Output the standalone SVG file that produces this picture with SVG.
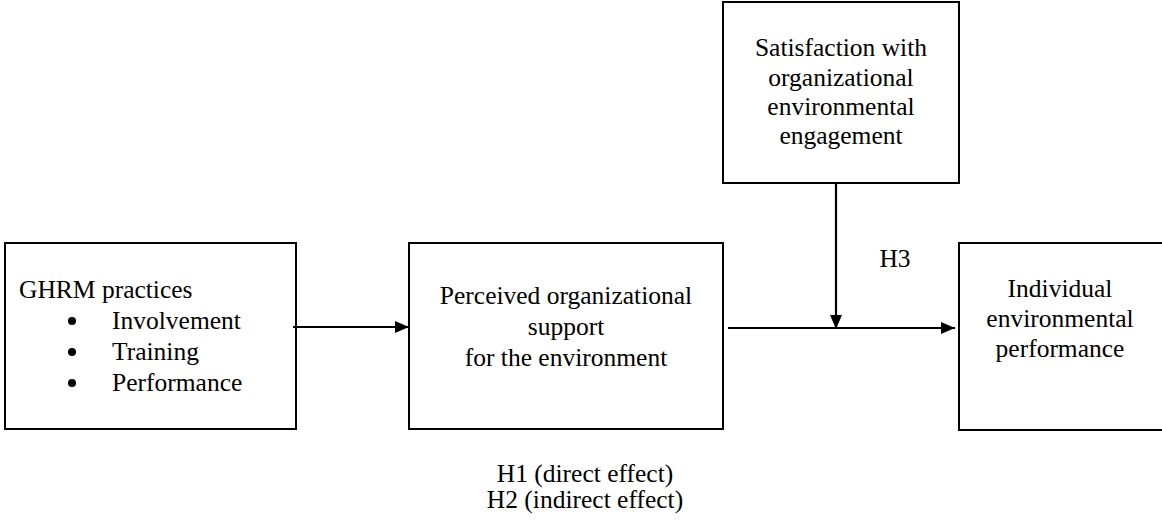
<svg xmlns="http://www.w3.org/2000/svg" width="1162" height="524" viewBox="0 0 1162 524">
  <style>
    .box { fill: #ffffff; stroke: #000000; stroke-width: 2; }
    .conn { stroke: #000000; stroke-width: 2.2; fill: none; }
  </style>
  <defs>
    <marker id="arrow" markerUnits="userSpaceOnUse" markerWidth="14" markerHeight="12" refX="14" refY="6" orient="auto">
      <path d="M0,0 L14,6 L0,12 Z" fill="#000000"/>
    </marker>
  </defs>
  <rect width="1162" height="524" fill="#ffffff"/>

  <g id="node-ghrm">
    <rect class="box" x="5" y="243" width="291" height="186"/>
    <text x="19" y="298" font-family="Liberation Serif, serif" font-size="25.5">GHRM practices</text>
    <circle cx="72" cy="321" r="4"/>
    <text x="112" y="329" font-family="Liberation Serif, serif" font-size="25.5">Involvement</text>
    <circle cx="72" cy="352" r="4"/>
    <text x="112" y="360" font-family="Liberation Serif, serif" font-size="25.5">Training</text>
    <circle cx="72" cy="383" r="4"/>
    <text x="112" y="391" font-family="Liberation Serif, serif" font-size="25.5">Performance</text>
  </g>

  <g id="node-pos">
    <rect class="box" x="409" y="243" width="314" height="186"/>
    <text x="566" y="304" text-anchor="middle" font-family="Liberation Serif, serif" font-size="25.5">Perceived organizational</text>
    <text x="566" y="335" text-anchor="middle" font-family="Liberation Serif, serif" font-size="25.5">support</text>
    <text x="566" y="366" text-anchor="middle" font-family="Liberation Serif, serif" font-size="25.5">for the environment</text>
  </g>

  <g id="node-satisfaction">
    <rect class="box" x="723" y="2" width="236" height="181"/>
    <text x="841" y="56" text-anchor="middle" font-family="Liberation Serif, serif" font-size="25.5">Satisfaction with</text>
    <text x="841" y="86" text-anchor="middle" font-family="Liberation Serif, serif" font-size="25.5">organizational</text>
    <text x="841" y="115" text-anchor="middle" font-family="Liberation Serif, serif" font-size="25.5">environmental</text>
    <text x="841" y="144" text-anchor="middle" font-family="Liberation Serif, serif" font-size="25.5">engagement</text>
  </g>

  <g id="node-performance">
    <rect class="box" x="959" y="243" width="220" height="187"/>
    <text x="1060" y="297" text-anchor="middle" font-family="Liberation Serif, serif" font-size="25.5">Individual</text>
    <text x="1060" y="327" text-anchor="middle" font-family="Liberation Serif, serif" font-size="25.5">environmental</text>
    <text x="1060" y="357" text-anchor="middle" font-family="Liberation Serif, serif" font-size="25.5">performance</text>
  </g>

  <g id="connectors">
    <line class="conn" x1="293" y1="327" x2="409" y2="327" marker-end="url(#arrow)"/>
    <line class="conn" x1="728" y1="328" x2="955" y2="328" marker-end="url(#arrow)"/>
    <line class="conn" x1="836" y1="183" x2="836" y2="329" marker-end="url(#arrow)"/>
  </g>

  <g id="labels">
    <text x="895" y="267" text-anchor="middle" font-family="Liberation Serif, serif" font-size="25.5">H3</text>
    <text x="585" y="482" text-anchor="middle" font-family="Liberation Serif, serif" font-size="25.5">H1 (direct effect)</text>
    <text x="585" y="508" text-anchor="middle" font-family="Liberation Serif, serif" font-size="25.5">H2 (indirect effect)</text>
  </g>
</svg>
